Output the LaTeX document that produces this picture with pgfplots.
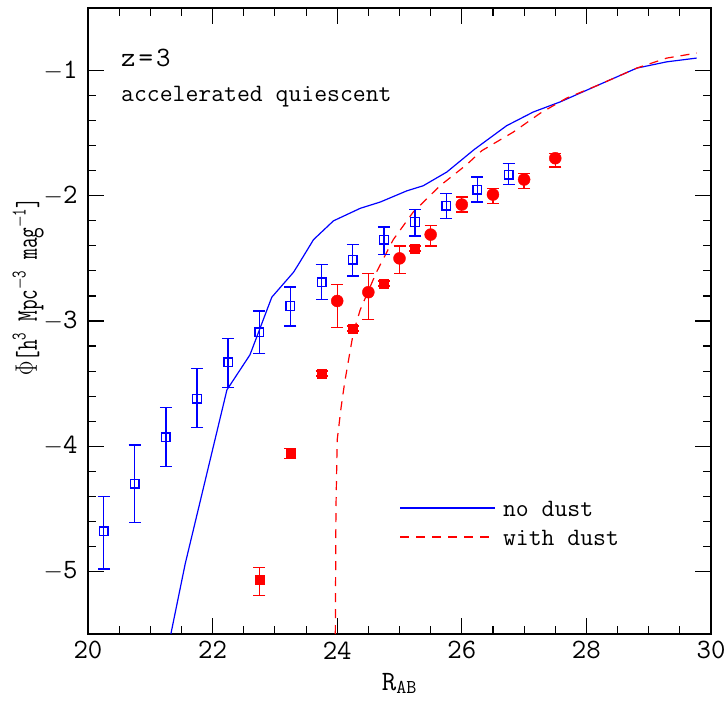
\documentclass[border=0pt]{standalone}
\usepackage{fontspec}
\usepackage{pgfplots}
\pgfplotsset{compat=1.18}
\definecolor{pblue}{RGB}{0,0,255}
\definecolor{pred}{RGB}{255,0,0}
\newcommand{\tickf}{\ttfamily\fontsize{28}{30}\selectfont}
\newcommand{\txtf}{\ttfamily\fontsize{25}{27}\selectfont}
\begin{document}
\begin{tikzpicture}
\begin{axis}[name=ax, scale only axis, width=623pt, height=626pt,
  xmin=20, xmax=30, ymin=-5.5, ymax=-0.5,
  xtick={20,22,24,26,28,30}, xticklabels={20,22,24,26,28,30},
  ytick={-5,-4,-3,-2,-1}, yticklabels={$-$5,$-$4,$-$3,$-$2,$-$1},
  minor x tick num=3, minor y tick num=4,
  major tick length=16pt, minor tick length=8pt,
  every tick/.style={black, line width=1.1pt},
  every minor tick/.style={black, line width=1.1pt},
  axis line style={line width=1.3pt, black},
  every tick label/.append style={font=\tickf},
  xticklabel style={yshift=-4pt},
  yticklabel style={xshift=-7pt},
  xlabel={R\textsubscript{AB}},
  xlabel style={font=\tickf, at={(axis description cs:0.5,0)}, anchor=base, yshift=-56pt},
  ylabel={$\Phi$[h\textsuperscript{3} Mpc\textsuperscript{$-$3} mag\textsuperscript{$-$1}]},
  ylabel style={font=\ttfamily\fontsize{24}{26}\selectfont, inner sep=0pt, at={(axis description cs:-0.082,0.555)}, anchor=base, xscale=0.86, yscale=1.25},
  legend style={draw=none, fill=none, at={(0.5,0.175)}, anchor=west, font=\txtf, inner sep=0pt,
    nodes={inner sep=2pt}, row sep=8pt, column sep=5pt},
  legend cell align=left,
]
% model curves
\addplot[pblue, line width=1.2pt,
  legend image code/.code={\draw[pblue, line width=1.4pt] (0pt,2pt) -- (95pt,2pt);}] coordinates {
(21.33,-5.5) (21.56,-4.94) (22.23,-3.55) (22.60,-3.27) (22.95,-2.81) (23.30,-2.61)
(23.40,-2.53) (23.62,-2.35) (23.94,-2.20) (24.37,-2.10) (24.69,-2.05) (25.12,-1.96)
(25.38,-1.92) (25.76,-1.81) (26.20,-1.63) (26.72,-1.44) (27.15,-1.33) (27.58,-1.25)
(28.17,-1.12) (28.81,-0.98) (29.29,-0.93) (29.77,-0.90)
};
\addlegendentry{no dust}
\addplot[pred, line width=1.2pt, dash pattern=on 9pt off 7pt,
  legend image code/.code={\draw[pred, line width=1.4pt, dash pattern=on 9pt off 7pt] (0pt,2pt) -- (95pt,2pt);}] coordinates {
(23.97,-5.5) (23.98,-4.5) (24.00,-3.95) (24.06,-3.70) (24.12,-3.49) (24.26,-3.09)
(24.37,-2.91) (24.63,-2.61) (24.90,-2.35) (25.22,-2.13) (25.65,-1.92) (26.08,-1.75)
(26.32,-1.64) (26.83,-1.49) (27.26,-1.34) (27.68,-1.22) (28.17,-1.12) (28.81,-0.98)
(29.29,-0.90) (29.77,-0.86)
};
\addlegendentry{with dust}
% blue open squares
\addplot[forget plot, pblue, only marks, mark=square, mark size=4.3pt,
  mark options={fill=white, draw=pblue, line width=1.4pt, solid},
  error bars/.cd, y dir=both, y explicit,
  error bar style={line width=1.4pt, pblue},
  error mark options={rotate=90, pblue, mark size=6pt, line width=1.4pt}]
  table[x=x, y=y, y error plus=ep, y error minus=em] {
x y ep em
20.25 -4.68 0.28 0.30
20.75 -4.30 0.31 0.31
21.25 -3.93 0.24 0.23
21.75 -3.62 0.24 0.23
22.25 -3.33 0.19 0.20
22.75 -3.09 0.17 0.17
23.25 -2.88 0.15 0.16
23.75 -2.69 0.14 0.14
24.25 -2.51 0.12 0.13
24.75 -2.35 0.10 0.12
25.25 -2.21 0.10 0.11
25.75 -2.08 0.10 0.10
26.25 -1.95 0.10 0.10
26.75 -1.83 0.09 0.08
};
% red filled squares
\addplot[forget plot, pred, only marks, mark=square*, mark size=4.5pt,
  mark options={fill=pred, draw=pred, solid},
  error bars/.cd, y dir=both, y explicit,
  error bar style={line width=1.3pt, pred},
  error mark options={rotate=90, pred, mark size=6pt, line width=1.3pt}]
  table[x=x, y=y, y error plus=ep, y error minus=em] {
x y ep em
22.75 -5.07 0.10 0.12
23.25 -4.05 0.03 0.05
23.75 -3.42 0.02 0.02
24.25 -3.06 0.02 0.02
24.75 -2.70 0.02 0.02
25.25 -2.42 0.02 0.02
};
% red filled circles
\addplot[forget plot, pred, only marks, mark=*, mark size=6pt,
  mark options={fill=pred, draw=pred, solid},
  error bars/.cd, y dir=both, y explicit,
  error bar style={line width=1.3pt, pred},
  error mark options={rotate=90, pred, mark size=6pt, line width=1.3pt}]
  table[x=x, y=y, y error plus=ep, y error minus=em] {
x y ep em
24.0 -2.84 0.13 0.21
24.5 -2.77 0.15 0.22
25.0 -2.50 0.10 0.12
25.5 -2.31 0.07 0.09
26.0 -2.07 0.06 0.06
26.5 -1.99 0.05 0.07
27.0 -1.87 0.05 0.07
27.5 -1.70 0.04 0.07
};
\node[anchor=base west, inner sep=0pt, font=\tickf] at (rel axis cs:0.053,0.906) {z\kern3pt=\kern3pt3};
\node[anchor=base west, inner sep=0pt, font=\txtf] at (rel axis cs:0.053,0.85) {accelerated quiescent};
\end{axis}
\pgfresetboundingbox
\path ([shift={(-88pt,-68pt)}]ax.south west) rectangle ([shift={(17pt,8pt)}]ax.north east);
\end{tikzpicture}
\end{document}
